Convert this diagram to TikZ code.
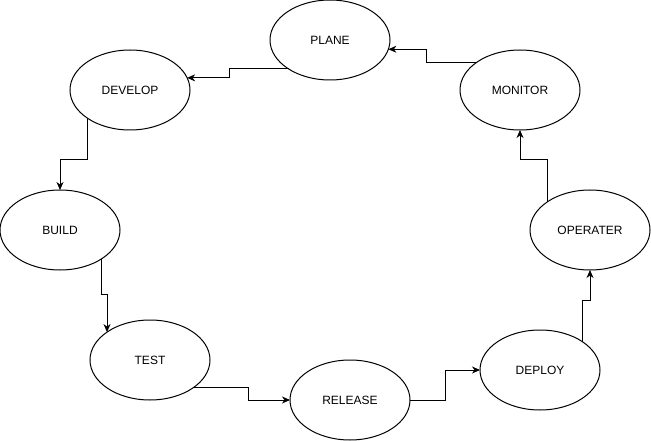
\documentclass[tikz,border=0pt]{standalone}
\usepackage{fontspec}
\setmainfont{Liberation Sans}
\usetikzlibrary{arrows.meta,shapes.geometric}
\newlength{\du}
\setlength{\du}{1pt}
\definecolor{dialinecolor}{rgb}{0.000000, 0.000000, 0.000000}
\tikzset{
  stage/.style={ellipse, draw=dialinecolor, fill=white, line width=1\du,
    minimum width=120\du, minimum height=80\du, inner sep=0pt, outer sep=0pt,
    font=\fontsize{12}{14}\selectfont},
  flow/.style={draw=dialinecolor, line width=1\du,
    -{Stealth[length=8pt,width=7pt,inset=2.5pt]}}
}
\begin{document}
\begin{tikzpicture}
\pgftransformxscale{1.000000}
\pgftransformyscale{-1.000000}
\useasboundingbox (0\du,0\du) rectangle (651\du,441\du);
% stages
\node[stage] (plane) at (330\du,40\du){PLANE};
\node[stage] (develop) at (130\du,90\du){DEVELOP};
\node[stage] (monitor) at (520\du,90\du){MONITOR};
\node[stage] (build) at (60\du,230\du){BUILD};
\node[stage] (operater) at (590\du,230\du){OPERATER};
\node[stage] (test) at (150\du,360\du){TEST};
\node[stage] (release) at (350\du,400\du){RELEASE};
\node[stage] (deploy) at (540\du,370\du){DEPLOY};
% edges
\draw[flow] (plane.215) -- ++(-59\du,0\du) |- (develop.12);
\draw[flow] (develop.214) -- ++(0\du,41\du) -| (build.north);
\draw[flow] (build.325) -- ++(0\du,36\du) -| (test.147);
\draw[flow] (test.327) -- ++(56\du,0\du) |- (release.west);
\draw[flow] (release.east) -- ++(35\du,0\du) |- (deploy.west);
\draw[flow] (deploy.33) -- ++(0\du,-42\du) -| (operater.south);
\draw[flow] (operater.146) -- ++(0\du,-42\du) -| (monitor.south);
\draw[flow] (monitor.147) -- ++(-51\du,0\du) |- (plane.351);
\end{tikzpicture}
\end{document}
